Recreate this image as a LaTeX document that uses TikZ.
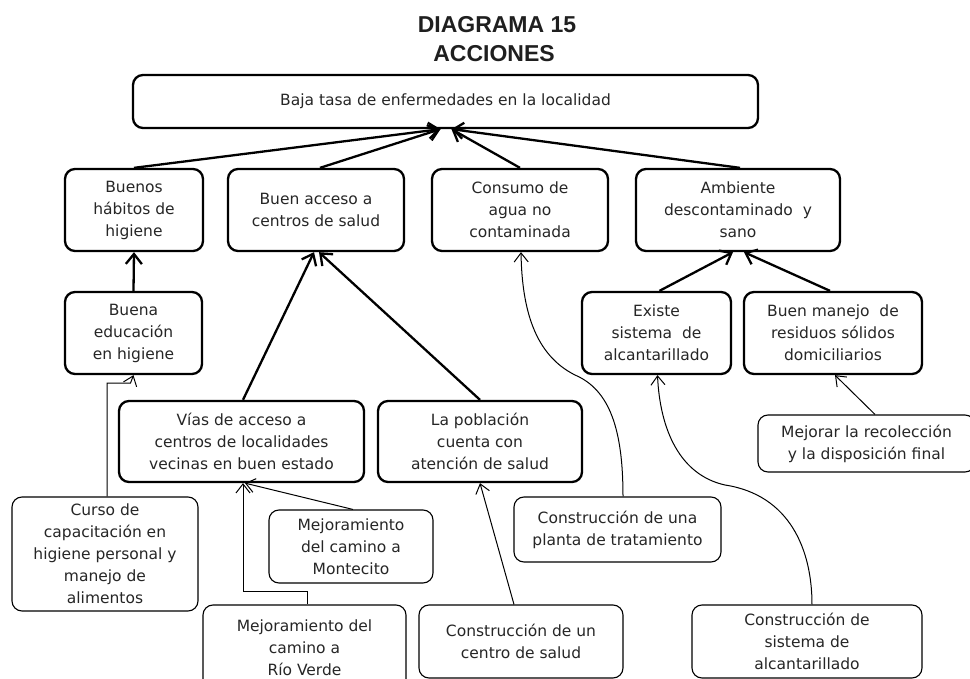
\documentclass[tikz,border=0pt]{standalone}
\usepackage{fontspec}
\setmainfont{DejaVu Sans}
\newfontfamily\titlefont{Liberation Sans}
\usetikzlibrary{arrows.meta}
\begin{document}
\begin{tikzpicture}[x=1pt,y=-1pt,
  txt/.style={font=\fontsize{15.5pt}{22pt}\selectfont, align=center, text=black!85},
  bigbox/.style={txt, draw, rounded corners=10pt, line width=2.3pt, inner sep=0pt},
  smallbox/.style={txt, draw, rounded corners=10pt, line width=1.1pt, inner sep=0pt},
  bigarr/.style={line width=2.3pt, -{Straight Barb[length=10pt,width=16pt]}},
  smallarr/.style={line width=1pt, -{Straight Barb[length=9pt,width=14pt]}},
  ttl/.style={font=\titlefont\bfseries\fontsize{23pt}{27pt}\selectfont, text=black!88, anchor=base, inner sep=0pt}
]
\useasboundingbox (0,0) rectangle (970,679);
\fill[white] (0,0) rectangle (970,679);

\node[ttl] (t1) at (497,33) {DIAGRAMA 15};
\node[ttl] (t2) at (494,62) {ACCIONES};

\node[bigbox, minimum width=625pt, minimum height=53pt] (top) at (445.5,101.5) {Baja tasa de enfermedades en la localidad};

\node[bigbox, minimum width=138pt, minimum height=82pt] (buenos) at (134,210) {Buenos\\hábitos de\\higiene};
\node[bigbox, minimum width=176pt, minimum height=82pt] (acceso) at (316,210) {Buen acceso a\\centros de salud};
\node[bigbox, minimum width=176pt, minimum height=82pt] (consumo) at (520,210) {Consumo de\\agua no\\contaminada};
\node[bigbox, minimum width=204pt, minimum height=82pt] (ambiente) at (738,210) {Ambiente\\descontaminado~ y\\sano};

\node[bigbox, minimum width=137pt, minimum height=82pt] (educ) at (133.5,333) {Buena\\educación\\en higiene};
\node[bigbox, minimum width=149pt, minimum height=82pt] (existe) at (656.5,333) {Existe\\sistema~ de\\alcantarillado};
\node[bigbox, minimum width=178pt, minimum height=82pt] (manejo) at (833,333) {Buen manejo~ de\\residuos sólidos\\domiciliarios};

\node[bigbox, minimum width=245pt, minimum height=81pt] (vias) at (241.5,441.5) {Vías de acceso a\\centros de localidades\\vecinas en buen estado};
\node[bigbox, minimum width=204pt, minimum height=81pt] (pobl) at (480,441.5) {La población\\cuenta con\\atención de salud};

\node[smallbox, minimum width=217pt, minimum height=57pt] (mejorar) at (866.5,443.5) {Mejorar la recolección\\y la disposición final};
\node[smallbox, minimum width=186pt, minimum height=114pt] (curso) at (105,554) {Curso de\\capacitación en\\higiene personal y\\manejo de\\alimentos};
\node[smallbox, minimum width=207pt, minimum height=65pt] (planta) at (617.5,529.5) {Construcción de una\\planta de tratamiento};
\node[smallbox, minimum width=164pt, minimum height=73pt] (monte) at (351,546.5) {Mejoramiento\\del camino a\\Montecito};
\node[smallbox, minimum width=203pt, minimum height=86pt] (rio) at (304.5,648) {Mejoramiento del\\camino a\\Río Verde};
\node[smallbox, minimum width=204pt, minimum height=73pt] (centro) at (521,641.5) {Construcción de un\\centro de salud};
\node[smallbox, minimum width=230pt, minimum height=73pt] (sistema) at (807,641.5) {Construcción de\\sistema de\\alcantarillado};

% thick connectors
\draw[bigarr] (buenos.north) -- ([xshift=-5pt]top.south);
\draw[bigarr] ([xshift=4pt]acceso.north) -- ([xshift=-5pt]top.south);
\draw[bigarr] (consumo.north) -- ([xshift=6pt]top.south);
\draw[bigarr] ([xshift=2pt]ambiente.north) -- ([xshift=6pt]top.south);
\draw[bigarr] (educ.north) -- (buenos.south);
\draw[bigarr] ([xshift=1.5pt]vias.north) -- ([xshift=-2pt]acceso.south);
\draw[bigarr] (pobl.north) -- ([xshift=3pt]acceso.south);
\draw[bigarr] ([xshift=3pt]existe.north) -- ([xshift=-5pt]ambiente.south);
\draw[bigarr] ([xshift=-3pt]manejo.north) -- ([xshift=6pt]ambiente.south);

% thin connectors
\draw[smallarr] ([xshift=2pt]curso.north) |- ([xshift=-3pt,yshift=-8pt]educ.south) -- (educ.south);
\draw[smallarr] ([xshift=2pt]monte.north) -- ([xshift=3.5pt]vias.south);
\draw[smallarr] ([xshift=2.5pt]rio.north) -- ++(0pt,13pt) -| ([xshift=1.5pt]vias.south);
\draw[smallarr] ([xshift=-7pt]centro.north) -- (pobl.south);
\draw[smallarr] ([xshift=5.5pt]planta.north) .. controls (623,430) and (610,390) .. (575,375)
   .. controls (535,355) and (522,310) .. ([xshift=1pt]consumo.south);
\draw[smallarr] ([xshift=5pt]sistema.north) .. controls (812,550) and (790,495) .. (725,485)
   .. controls (680,475) and (660,430) .. ([xshift=1pt]existe.south);
\draw[smallarr] ([xshift=8.5pt]mejorar.north) -- ([xshift=2pt]manejo.south);
\end{tikzpicture}
\end{document}
